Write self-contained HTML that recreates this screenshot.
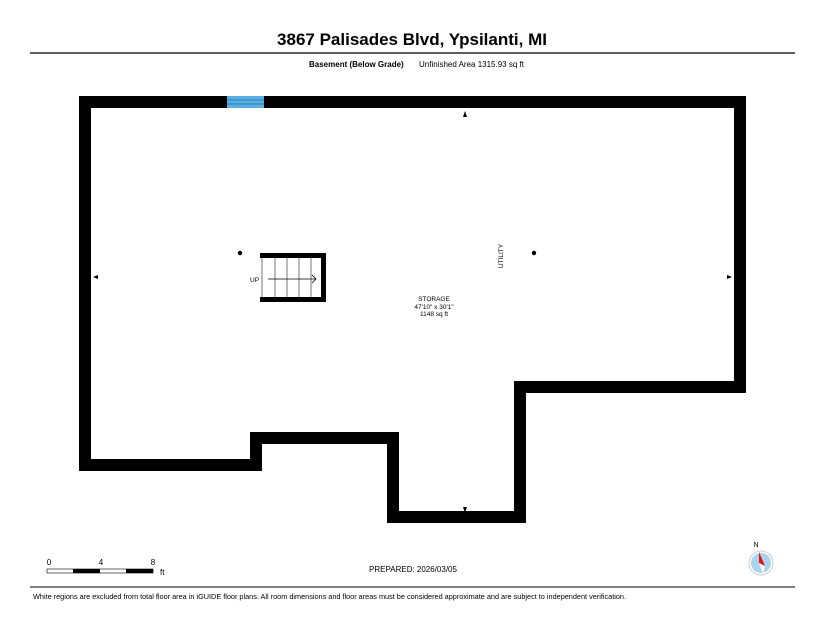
<!DOCTYPE html>
<html><head><style>
body{margin:0;background:#fff;width:825px;height:638px;overflow:hidden;font-family:"Liberation Sans",sans-serif;}
</style></head><body>
<svg width="825" height="638" xmlns="http://www.w3.org/2000/svg" font-family="Liberation Sans, sans-serif">
<text x="412" y="45" text-anchor="middle" font-size="17" font-weight="bold">3867 Palisades Blvd, Ypsilanti, MI</text>
<line x1="30" y1="53" x2="795" y2="53" stroke="#000" stroke-width="1.2"/>
<text x="309" y="67" font-size="8" font-weight="bold">Basement (Below Grade)</text>
<text x="419" y="67" font-size="8">Unfinished Area 1315.93 sq ft</text>
<path d="M85 102 H740 V387 H520 V517 H393 V438 H256 V465 H85 Z" fill="none" stroke="#000" stroke-width="12" stroke-linejoin="miter"/>
<rect x="227" y="96" width="37" height="12" fill="#5aaee0"/>
<line x1="227" y1="100" x2="264" y2="100" stroke="#2a7fb8" stroke-width="1"/>
<line x1="227" y1="104" x2="264" y2="104" stroke="#2a7fb8" stroke-width="1"/>
<polygon points="465,111 463,117 467,117" fill="#000"/>
<polygon points="93,277 98,275 98,279" fill="#000"/>
<polygon points="732,277 727,275 727,279" fill="#000"/>
<polygon points="465,513 463,507 467,507" fill="#000"/>
<circle cx="240" cy="253" r="2.2" fill="#000"/>
<circle cx="534" cy="253" r="2.2" fill="#000"/>
<text transform="translate(503,256) rotate(-90)" text-anchor="middle" font-size="6.5">UTILITY</text>
<rect x="260" y="253" width="66" height="5" fill="#000"/>
<rect x="260" y="297" width="66" height="5" fill="#000"/>
<rect x="321" y="253" width="5" height="49" fill="#000"/>
<g stroke="#777" stroke-width="1">
<line x1="262" y1="258" x2="262" y2="297"/><line x1="275" y1="258" x2="275" y2="297"/><line x1="287" y1="258" x2="287" y2="297"/><line x1="299" y1="258" x2="299" y2="297"/><line x1="311" y1="258" x2="311" y2="297"/>
</g>
<line x1="268" y1="279" x2="316" y2="279" stroke="#000" stroke-width="0.8"/>
<polyline points="312,275 316,279 312,283" fill="none" stroke="#000" stroke-width="0.8"/>
<text x="250" y="282" font-size="6.5">UP</text>
<text x="434" y="301" text-anchor="middle" font-size="6.5">STORAGE</text>
<text x="434" y="309" text-anchor="middle" font-size="6.5">47'10" x 30'1"</text>
<text x="434" y="316" text-anchor="middle" font-size="6.5">1148 sq ft</text>
<text x="49" y="565" text-anchor="middle" font-size="8">0</text>
<text x="101" y="565" text-anchor="middle" font-size="8">4</text>
<text x="153" y="565" text-anchor="middle" font-size="8">8</text>
<text x="160" y="575" font-size="8">ft</text>
<rect x="47" y="569" width="106" height="4" fill="#fff" stroke="#000" stroke-width="0.6"/>
<rect x="73" y="569" width="27" height="4" fill="#000"/>
<rect x="126" y="569" width="27" height="4" fill="#000"/>
<text x="413" y="572" text-anchor="middle" font-size="8">PREPARED: 2026/03/05</text>
<text x="756" y="547" text-anchor="middle" font-size="7">N</text>
<circle cx="761" cy="563" r="12" fill="#fff" stroke="#ccc" stroke-width="1"/>
<circle cx="761" cy="563" r="10" fill="#a8d4f0"/>
<polygon points="759,552 765,566 759,563" fill="#e01010"/>
<polygon points="759,563 765,566 763,574" fill="#fff"/>
<line x1="30" y1="587" x2="795" y2="587" stroke="#000" stroke-width="1"/>
<text x="33" y="599" font-size="7.3" textLength="593" lengthAdjust="spacingAndGlyphs">White regions are excluded from total floor area in iGUIDE floor plans. All room dimensions and floor areas must be considered approximate and are subject to independent verification.</text>
</svg>
</body></html>
